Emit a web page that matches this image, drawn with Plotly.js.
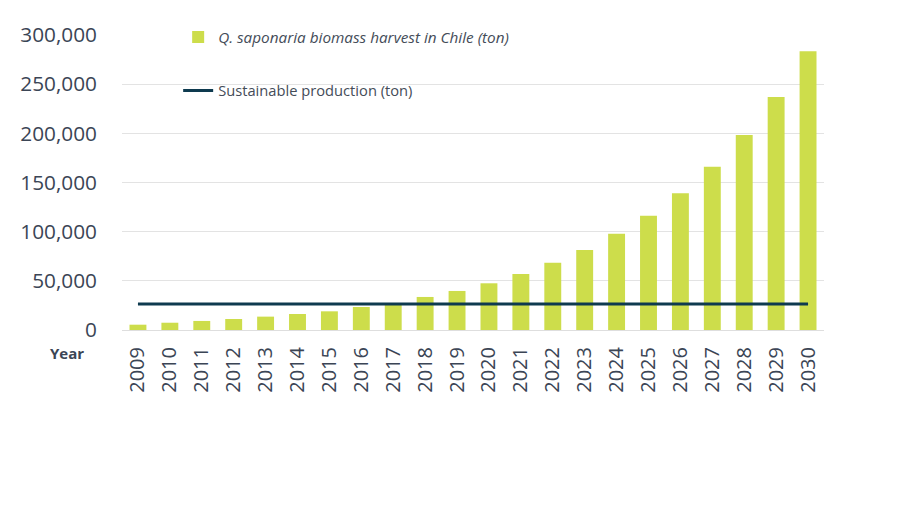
<!DOCTYPE html>
<html>
<head>
<meta charset="utf-8">
<script src="https://cdn.plot.ly/plotly-3.0.1.min.js"></script>
<style>
  html, body { margin: 0; padding: 0; background: #ffffff; }
  #chart { width: 900px; height: 506px; }
</style>
</head>
<body>
<div id="chart"></div>
<script>
// Years on the category axis
const years = ['2009','2010','2011','2012','2013','2014','2015','2016','2017','2018','2019',
               '2020','2021','2022','2023','2024','2025','2026','2027','2028','2029','2030'];

// Q. saponaria biomass harvest in Chile (ton)
const harvest = [5400, 7400, 9200, 11200, 13600, 16300, 19000, 23400, 25400, 33600, 39700,
                 47500, 56900, 68500, 81400, 98000, 116300, 139000, 166000, 198300, 237000, 283400];

// Sustainable production (ton), flat level across all years
const sustainable = [26400, 26400, 26400, 26400, 26400, 26400, 26400, 26400, 26400, 26400, 26400,
                     26400, 26400, 26400, 26400, 26400, 26400, 26400, 26400, 26400, 26400, 26400];

const textColor = '#3b4555';
const fontFamily = '"Open Sans", "Noto Sans", sans-serif';

const traces = [
  {
    type: 'bar',
    x: years,
    y: harvest,
    name: 'Q. saponaria biomass harvest in Chile (ton)',
    marker: { color: '#cddd4b' },
    legend: 'legend',
    hoverinfo: 'x+y'
  },
  {
    type: 'scatter',
    mode: 'lines',
    x: years,
    y: sustainable,
    name: 'Sustainable production (ton)',
    line: { color: '#0e3a4f', width: 3 },
    legend: 'legend2',
    hoverinfo: 'x+y'
  }
];

const layout = {
  width: 900,
  height: 506,
  margin: { l: 122, r: 76, t: 35, b: 176 },
  paper_bgcolor: '#ffffff',
  plot_bgcolor: '#ffffff',
  font: { family: fontFamily, color: textColor },
  bargap: 0.47,
  showlegend: true,
  xaxis: {
    type: 'category',
    tickangle: -90,
    ticks: '',
    showgrid: false,
    showline: false,
    zeroline: false,
    ticklabelstandoff: 12,
    tickfont: { size: 20, color: textColor, family: fontFamily }
  },
  yaxis: {
    range: [0, 300000],
    tickvals: [0, 50000, 100000, 150000, 200000, 250000, 300000],
    ticktext: ['0', '50,000', '100,000', '150,000', '200,000', '250,000', '300,000'],
    ticks: '',
    showline: false,
    gridcolor: '#e3e3e3',
    gridwidth: 1,
    zeroline: true,
    zerolinecolor: '#dedede',
    zerolinewidth: 1,
    ticklabelstandoff: 24,
    tickfont: { size: 20.8, color: textColor, family: fontFamily }
  },
  legend: {
    x: 0.08, y: 0.993,
    xanchor: 'left', yanchor: 'middle',
    bgcolor: 'rgba(0,0,0,0)',
    font: { size: 15.3, color: '#444c58', family: fontFamily, style: 'italic' }
  },
  legend2: {
    x: 0.08, y: 0.81,
    xanchor: 'left', yanchor: 'middle',
    bgcolor: 'rgba(0,0,0,0)',
    font: { size: 14.7, color: '#444c58', family: fontFamily }
  },
  annotations: [
    {
      text: '<b>Year</b>',
      xref: 'paper', yref: 'paper',
      x: -0.078, y: -0.078,
      xanchor: 'center', yanchor: 'middle',
      showarrow: false,
      font: { size: 15, color: '#3b4555', family: fontFamily }
    }
  ]
};

Plotly.newPlot('chart', traces, layout, { displayModeBar: false, staticPlot: true });
</script>
</body>
</html>
